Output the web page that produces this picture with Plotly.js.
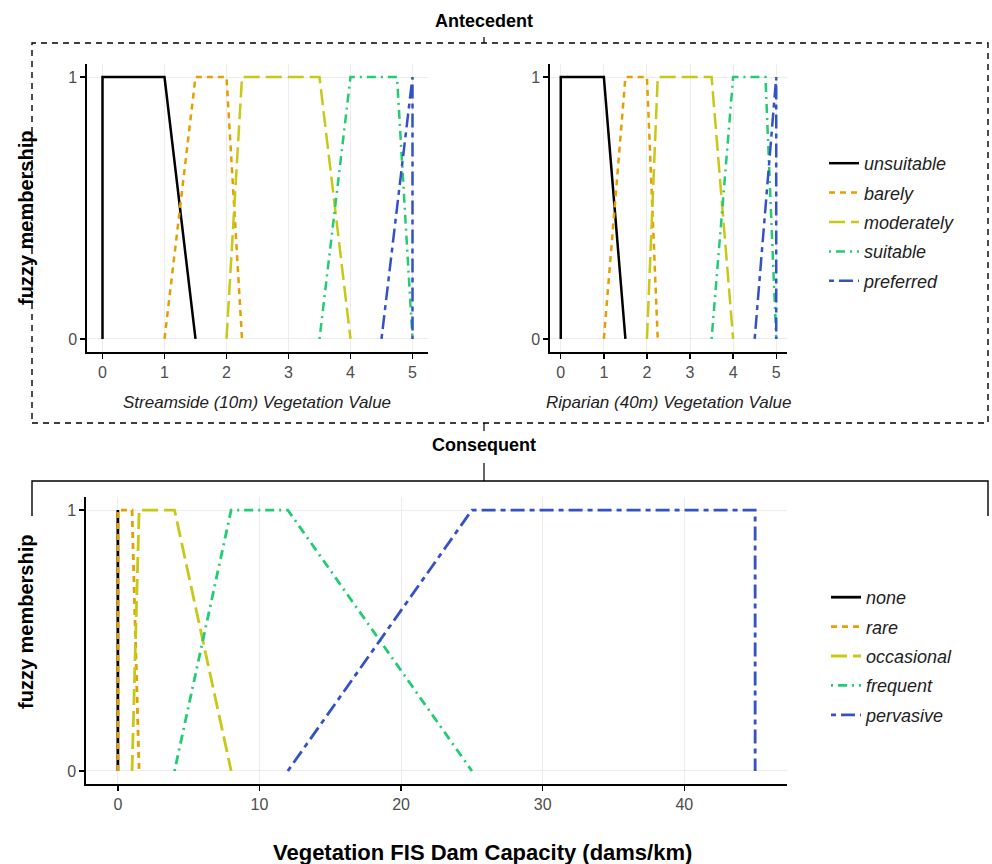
<!DOCTYPE html>
<html>
<head>
<meta charset="utf-8">
<script src="https://cdn.plot.ly/plotly-3.0.1.min.js"></script>
<style>html,body{margin:0;padding:0;background:#fff;}#chart{width:992px;height:864px;}</style>
</head>
<body>
<div id="chart"></div>
<script>
// ---------- DATA ----------
// Antecedent membership names
const antecedentNames = ['unsuitable', 'barely', 'moderately', 'suitable', 'preferred'];
// Streamside (10m) vegetation value – trapezoid corners
const streamUnsuitableX = [0, 0, 1, 1.5];
const streamBarelyX = [1, 1.5, 2, 2.25];
const streamModeratelyX = [2, 2.25, 3.5, 4];
const streamSuitableX = [3.5, 4, 4.75, 5];
const streamPreferredX = [4.5, 5, 5, 5];
// Riparian (40m) vegetation value – trapezoid corners
const ripUnsuitableX = [0, 0, 1, 1.5];
const ripBarelyX = [1, 1.5, 2, 2.25];
const ripModeratelyX = [2, 2.25, 3.5, 4];
const ripSuitableX = [3.5, 4, 4.75, 5];
const ripPreferredX = [4.5, 5, 5, 5];
// Consequent membership names
const consequentNames = ['none', 'rare', 'occasional', 'frequent', 'pervasive'];
const capNoneX = [0, 0, 0, 0];
const capRareX = [0, 0, 1, 1.5];
const capOccasionalX = [1, 1.5, 4, 8];
const capFrequentX = [4, 8, 12, 25];
const capPervasiveX = [12, 25, 45, 45];
// membership values at the trapezoid corners
const membershipY = [0, 1, 1, 0];
// tick labels
const antecedentTicks = [0, 1, 2, 3, 4, 5];
const consequentTicks = [0, 10, 20, 30, 40];
const membershipTicks = [0, 1];

// ---------- STYLE ----------
const FONT = 'Liberation Sans, Arial, sans-serif';
const colors = ['#000000', '#E69F00', '#C8C816', '#22CC72', '#3352C6'];
const dashes = ['solid', '6px,5px', '16px,6px', '2px,5px,9px,5px', '5px,5px,14px,5px'];

const W = 992, H = 864;
const px = v => v / W;
const py = v => 1 - v / H;

const traces = [];
function addSet(xs, names, xa, ya, legendName, showLeg, width) {
  xs.forEach((x, i) => {
    traces.push({
      type: 'scatter', mode: 'lines',
      x: x, y: membershipY,
      xaxis: xa, yaxis: ya,
      name: names[i],
      legend: legendName,
      legendgroup: legendName + names[i],
      showlegend: showLeg,
      line: {color: colors[i], width: width, dash: dashes[i]},
      hoverinfo: 'x+y+name'
    });
  });
}
addSet([streamUnsuitableX, streamBarelyX, streamModeratelyX, streamSuitableX, streamPreferredX],
       antecedentNames, 'x', 'y', 'legend', true, 2.5);
addSet([ripUnsuitableX, ripBarelyX, ripModeratelyX, ripSuitableX, ripPreferredX],
       antecedentNames, 'x2', 'y2', 'legend', false, 2.5);
addSet([capNoneX, capRareX, capOccasionalX, capFrequentX, capPervasiveX],
       consequentNames, 'x3', 'y3', 'legend2', true, 2.8);

const axisBase = {
  showline: true, linecolor: '#000', linewidth: 1.6,
  ticks: 'outside', tickcolor: '#000', tickwidth: 1.4, ticklen: 5,
  showgrid: true, gridcolor: '#ececec', gridwidth: 1,
  zeroline: false,
  tickfont: {family: FONT, size: 16, color: '#4d4d4d'},
  fixedrange: true
};
const xTop = Object.assign({}, axisBase, {range: [-0.25, 5.25], tickvals: antecedentTicks, ticktext: antecedentTicks.map(String)});
const yAx = Object.assign({}, axisBase, {range: [-0.05, 1.05], tickvals: membershipTicks, ticktext: membershipTicks.map(String)});

const legendBase = {
  xanchor: 'left', yanchor: 'top',
  font: {family: FONT, size: 18, style: 'italic', color: '#222'},
  bgcolor: 'rgba(0,0,0,0)', traceorder: 'grouped', tracegroupgap: 3,
  itemwidth: 30
};

function ann(text, x, y, size, extra) {
  return Object.assign({text: text, x: px(x), y: py(y), xref: 'paper', yref: 'paper',
    xanchor: 'center', yanchor: 'middle', showarrow: false,
    font: {family: FONT, size: size, color: '#000'}}, extra || {});
}

const layout = {
  width: W, height: H,
  margin: {l: 0, r: 0, t: 0, b: 0},
  paper_bgcolor: '#fff', plot_bgcolor: '#fff',
  showlegend: true,
  xaxis: Object.assign({}, xTop, {domain: [px(87), px(428)], anchor: 'y'}),
  yaxis: Object.assign({}, yAx, {domain: [py(352), py(64)], anchor: 'x'}),
  xaxis2: Object.assign({}, xTop, {domain: [px(550), px(787)], anchor: 'y2'}),
  yaxis2: Object.assign({}, yAx, {domain: [py(352), py(64)], anchor: 'x2'}),
  xaxis3: Object.assign({}, axisBase, {range: [-2.25, 47.25], tickvals: consequentTicks, ticktext: consequentTicks.map(String), domain: [px(86), px(787)], anchor: 'y3'}),
  yaxis3: Object.assign({}, yAx, {domain: [py(784), py(497)], anchor: 'x3'}),
  legend: Object.assign({}, legendBase, {x: px(824), y: py(145)}),
  legend2: Object.assign({}, legendBase, {x: px(826), y: py(579)}),
  annotations: [
    ann('<b>Antecedent</b>', 484, 21, 18),
    ann('<b>Consequent</b>', 484, 445, 18),
    ann('<b>fuzzy membership</b>', 26, 218, 20, {textangle: -90}),
    ann('<b>fuzzy membership</b>', 26, 622, 20, {textangle: -90}),
    ann('Streamside (10m) Vegetation Value', 257, 403, 17, {font: {family: FONT, size: 17, style: 'italic', color: '#222'}}),
    ann('Riparian (40m) Vegetation Value', 668, 403, 17, {font: {family: FONT, size: 17, style: 'italic', color: '#222'}}),
    ann('<b>Vegetation FIS Dam Capacity (dams/km)</b>', 482, 852, 22)
  ],
  shapes: [
    // antecedent dashed frame
    {type: 'rect', xref: 'paper', yref: 'paper', x0: px(32), x1: px(988), y0: py(423), y1: py(43), line: {color: '#000', width: 1.4, dash: '6px,5px'}},
    {type: 'line', xref: 'paper', yref: 'paper', x0: px(484), x1: px(484), y0: py(43), y1: py(37), line: {color: '#000', width: 1.2}},
    {type: 'line', xref: 'paper', yref: 'paper', x0: px(484), x1: px(484), y0: py(423), y1: py(431), line: {color: '#000', width: 1.2}},
    // consequent solid bracket
    {type: 'path', xref: 'paper', yref: 'paper', path: 'M ' + px(32) + ' ' + py(516) + ' L ' + px(32) + ' ' + py(481) + ' L ' + px(988) + ' ' + py(481) + ' L ' + px(988) + ' ' + py(516), line: {color: '#000', width: 1.4}},
    {type: 'line', xref: 'paper', yref: 'paper', x0: px(484), x1: px(484), y0: py(463), y1: py(481), line: {color: '#000', width: 1.2}}
  ]
};

Plotly.newPlot('chart', traces, layout, {displayModeBar: false, staticPlot: true});
</script>
</body>
</html>
